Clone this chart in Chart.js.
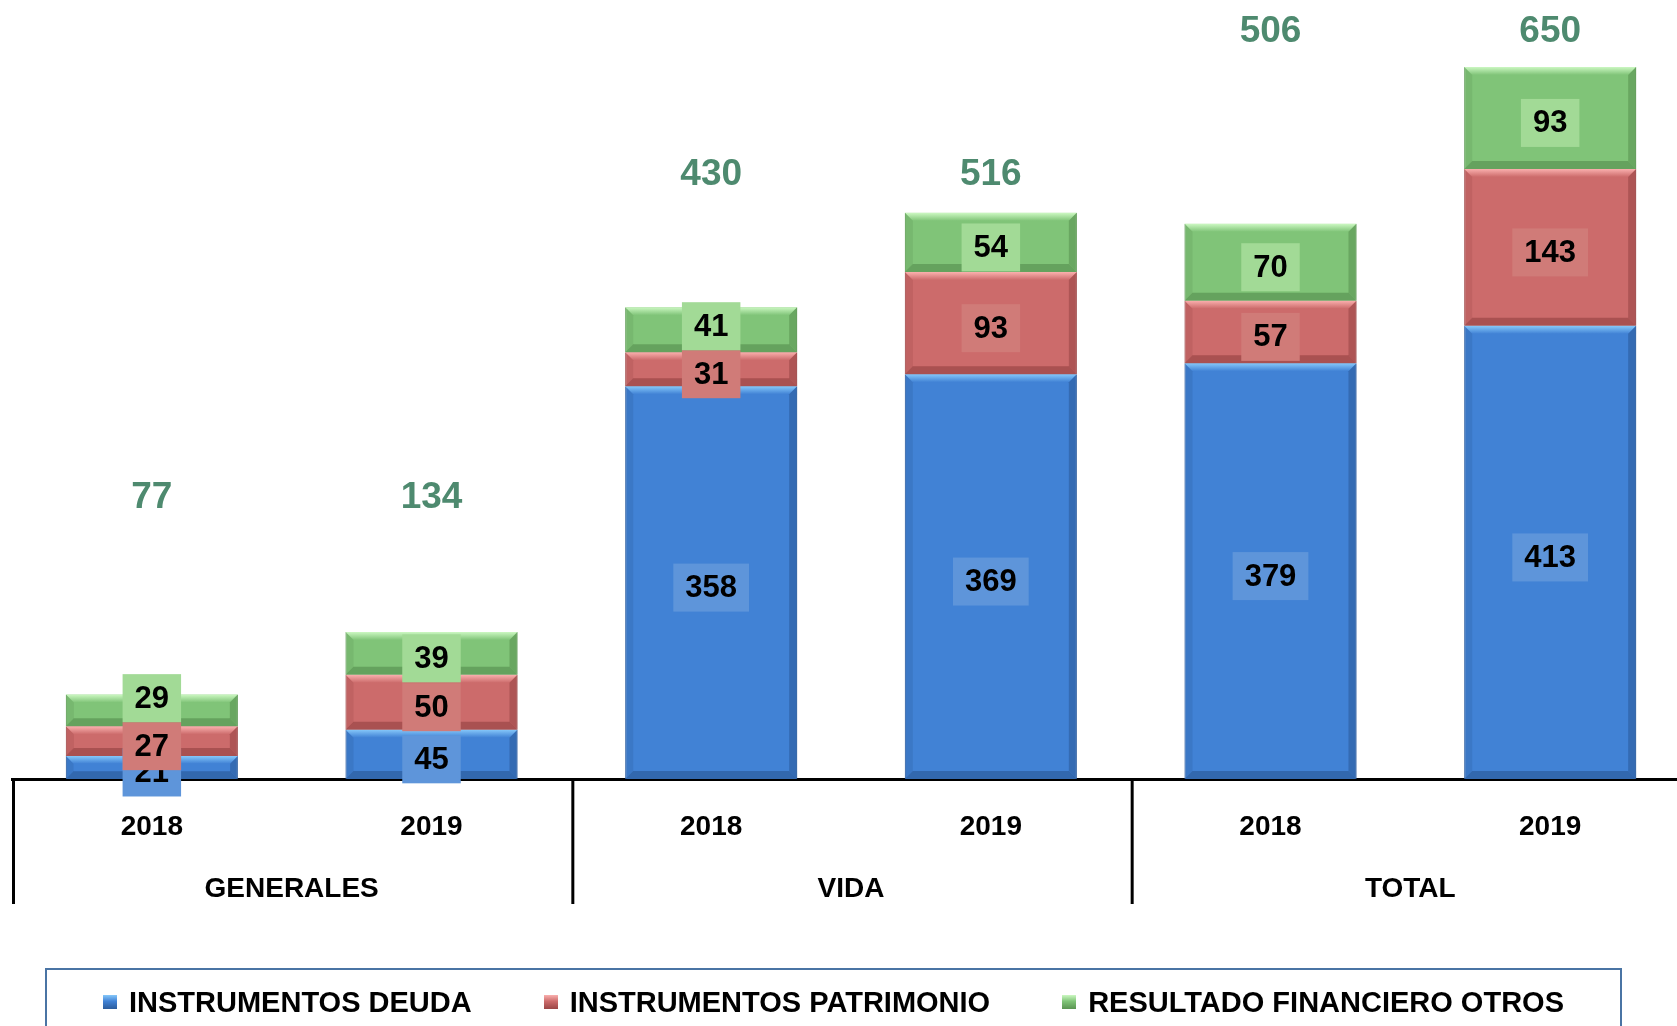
<!DOCTYPE html>
<html>
<head>
<meta charset="utf-8">
<script src="https://cdn.jsdelivr.net/npm/chart.js@4.4.0/dist/chart.umd.min.js"></script>
<style>
  html, body { margin: 0; padding: 0; background: #fff; overflow: hidden; }
  body { width: 1677px; height: 1026px; position: relative; }
  #wrap { position: absolute; left: 0; top: 0; width: 1690px; height: 1026px; }
  #legend {
    position: absolute; left: 45px; top: 968px; width: 1577px; height: 90px;
    box-sizing: border-box; border: 2px solid #4A74A4; padding: 0;
    display: flex; justify-content: center; align-items: flex-start; gap: 72px;
    font-family: 'Liberation Sans', Arial, sans-serif; font-weight: bold; font-size: 29px;
    line-height: 34px; color: #000;
  }
  #legend .item { display: flex; align-items: center; white-space: nowrap; height: 64px; }
  #legend .mark { width: 14px; height: 14px; margin-right: 12px; }
</style>
</head>
<body>
<div id="wrap"><canvas id="chart" width="1690" height="1026"></canvas></div>
<div id="legend"></div>
<script>
const categories = ['2018', '2019', '2018', '2019', '2018', '2019'];
const groups = ['GENERALES', 'VIDA', 'TOTAL'];
const deuda = [21, 45, 358, 369, 379, 413];
const patrimonio = [27, 50, 31, 93, 57, 143];
const otros = [29, 39, 41, 54, 70, 93];
const totals = [77, 134, 430, 516, 506, 650];

const FONT = "'Liberation Sans', Arial, sans-serif";

// bevel look + value boxes on each segment
const barLabels = {
  id: 'barLabels',
  afterDatasetsDraw(chart) {
    const { ctx } = chart;
    const n = chart.data.datasets.length;

    chart.data.datasets.forEach((ds, di) => {
      chart.getDatasetMeta(di).data.forEach(el => {
        const x0 = el.x - el.width / 2, x1 = el.x + el.width / 2;
        const top = el.y, bot = el.base;
        const b = Math.min(8, (bot - top) / 3);
        ctx.save();
        const g = ctx.createLinearGradient(0, top, 0, top + b);
        g.addColorStop(0, ds.lightColor);
        g.addColorStop(1, ds.backgroundColor);
        ctx.fillStyle = g;
        ctx.beginPath();
        ctx.moveTo(x0, top); ctx.lineTo(x1, top); ctx.lineTo(x1 - b, top + b); ctx.lineTo(x0 + b, top + b);
        ctx.closePath(); ctx.fill();
        ctx.fillStyle = ds.darkColor;
        ctx.globalAlpha = 0.7;
        ctx.beginPath();
        ctx.moveTo(x0, bot); ctx.lineTo(x1, bot); ctx.lineTo(x1 - b, bot - b); ctx.lineTo(x0 + b, bot - b);
        ctx.closePath(); ctx.fill();
        ctx.globalAlpha = 0.6;
        ctx.beginPath();
        ctx.moveTo(x1, top); ctx.lineTo(x1, bot); ctx.lineTo(x1 - b, bot - b); ctx.lineTo(x1 - b, top + b);
        ctx.closePath(); ctx.fill();
        ctx.globalAlpha = 0.25;
        ctx.beginPath();
        ctx.moveTo(x0, top); ctx.lineTo(x0, bot); ctx.lineTo(x0 + b, bot - b); ctx.lineTo(x0 + b, top + b);
        ctx.closePath(); ctx.fill();
        ctx.restore();
      });
    });

    const prev = [];
    chart.data.datasets.forEach((ds, di) => {
      chart.getDatasetMeta(di).data.forEach((el, i) => {
        const text = String(ds.data[i]);
        ctx.save();
        ctx.font = 'bold 31px ' + FONT;
        const w = ctx.measureText(text).width + 24, h = 48;
        let cy = (el.y + el.base) / 2 + 5;
        // top series label is nudged above the one beneath when they collide
        if (di === n - 1 && prev[i] !== undefined && cy + h / 2 > prev[i] - h / 2) cy = prev[i] - h;
        prev[i] = cy;
        ctx.fillStyle = ds.labelColor;
        ctx.fillRect(el.x - w / 2, cy - h / 2, w, h);
        ctx.fillStyle = '#000';
        ctx.textAlign = 'center';
        ctx.textBaseline = 'middle';
        ctx.fillText(text, el.x, cy + 1);
        ctx.restore();
      });
    });
  }
};

// totals above bars, group separators and group names under the axis
const groupAxis = {
  id: 'groupAxis',
  afterDraw(chart, args, opts) {
    const { ctx, chartArea } = chart;
    const x = chart.scales.x, y = chart.scales.y;
    const step = x.getPixelForValue(1) - x.getPixelForValue(0);
    ctx.save();
    ctx.font = 'bold 37px ' + FONT;
    ctx.fillStyle = '#4E8A6F';
    ctx.textAlign = 'center';
    ctx.textBaseline = 'middle';
    totals.forEach((t, i) => {
      ctx.fillText(String(t), x.getPixelForValue(i), y.getPixelForValue(opts.levels[Math.floor(i / 2)]));
    });

    ctx.strokeStyle = '#000';
    ctx.lineWidth = 3;
    ctx.fillStyle = '#000';
    ctx.font = 'bold 28px ' + FONT;
    groups.forEach((g, gi) => {
      const left = x.getPixelForValue(gi * 2) - step / 2;
      ctx.beginPath();
      ctx.moveTo(left + 1.5, chartArea.bottom);
      ctx.lineTo(left + 1.5, opts.lineBottom);
      ctx.stroke();
      ctx.fillText(g, left + step, opts.nameY);
    });
    ctx.restore();
  }
};

const datasets = [
  { label: 'INSTRUMENTOS DEUDA', data: deuda, backgroundColor: '#4182D5', borderColor: '#3566A8',
    lightColor: '#86C8FA', darkColor: '#2C5C9C', labelColor: '#5E95DA' },
  { label: 'INSTRUMENTOS PATRIMONIO', data: patrimonio, backgroundColor: '#CC6B6B', borderColor: '#A85252',
    lightColor: '#FAB0AE', darkColor: '#9A4646', labelColor: '#D07B78' },
  { label: 'RESULTADO FINANCIERO OTROS', data: otros, backgroundColor: '#80C478', borderColor: '#62A25A',
    lightColor: '#CCF8C2', darkColor: '#5A9452', labelColor: '#A2DA96' },
].map(d => ({ ...d, borderWidth: 1, barPercentage: 0.615, categoryPercentage: 1 }));

new Chart(document.getElementById('chart'), {
  type: 'bar',
  data: { labels: categories, datasets },
  options: {
    responsive: false,
    animation: false,
    layout: { padding: { left: 12, right: 0, top: 0, bottom: 117 } },
    plugins: {
      legend: { display: false },
      tooltip: { enabled: false },
      groupAxis: { levels: [256, 551, 681], lineBottom: 904, nameY: 889 },
    },
    scales: {
      x: {
        stacked: true,
        grid: { display: false, drawTicks: false },
        border: { display: true, color: '#000', width: 3 },
        ticks: { color: '#000', padding: 31, font: { family: FONT, size: 28, weight: 'bold' } },
        afterFit(scale) { scale.height = 130; },
      },
      y: { stacked: true, display: false, min: 0, max: 710 },
    },
  },
  plugins: [barLabels, groupAxis],
});

const legend = document.getElementById('legend');
datasets.forEach(d => {
  const item = document.createElement('div');
  item.className = 'item';
  const mark = document.createElement('span');
  mark.className = 'mark';
  mark.style.background = `linear-gradient(to bottom, ${d.lightColor}, ${d.backgroundColor} 45%, ${d.darkColor})`;
  item.appendChild(mark);
  item.appendChild(document.createTextNode(d.label));
  legend.appendChild(item);
});
</script>
</body>
</html>
